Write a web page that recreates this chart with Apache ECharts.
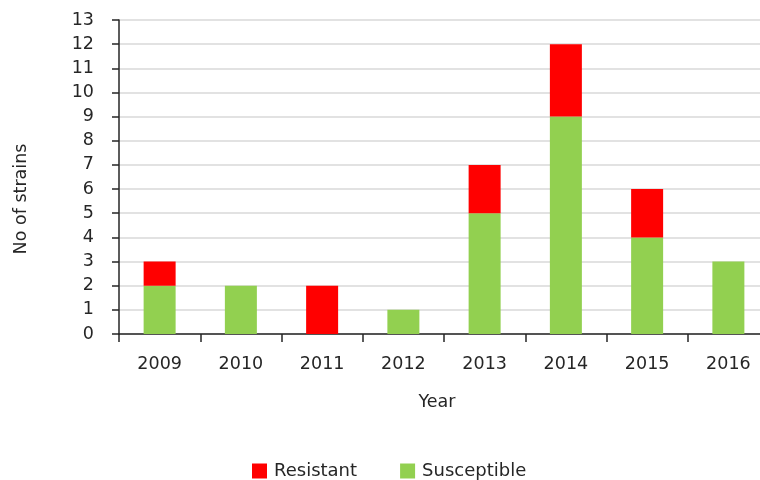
<!DOCTYPE html>
<html>
<head>
<meta charset="utf-8">
<script src="https://cdn.jsdelivr.net/npm/echarts@6/dist/echarts.min.js"></script>
<style>
  html, body { margin: 0; padding: 0; background: #fff; }
  #chart { width: 760px; height: 480px; }
</style>
</head>
<body>
<div id="chart"></div>
<script>
// Strain counts per year, split by resistance status
const years = ['2009', '2010', '2011', '2012', '2013', '2014', '2015', '2016'];
const susceptible = [2, 2, 0, 1, 5, 9, 4, 3];
const resistant = [1, 0, 2, 0, 2, 3, 2, 0];

const font = 'DejaVu Sans, Verdana, sans-serif';
const textColor = '#262626';
const fs = 17.5;

const chart = echarts.init(document.getElementById('chart'), null, { renderer: 'canvas' });
chart.setOption({
  animation: false,
  textStyle: { fontFamily: font },
  grid: {
    left: 119, top: 20, right: -9, bottom: 146,
    outerBoundsMode: 'none', containLabel: false
  },
  legend: {
    data: ['Resistant', 'Susceptible'],
    left: 247, top: 457,
    itemWidth: 15, itemHeight: 15, itemGap: 43,
    icon: 'rect',
    textStyle: { fontFamily: font, fontSize: 18, color: textColor, padding: [0, 0, 0, 2] }
  },
  xAxis: {
    type: 'category',
    data: years,
    name: 'Year',
    nameLocation: 'middle',
    nameGap: 59,
    nameTextStyle: { fontFamily: font, fontSize: fs, color: textColor, padding: [0, 14, 0, 0] },
    axisLine: { lineStyle: { color: '#262626', width: 1.5 } },
    axisTick: { show: true, length: 8, lineStyle: { color: '#262626', width: 1.5 } },
    axisLabel: { fontFamily: font, fontSize: fs, color: textColor, margin: 21 }
  },
  yAxis: {
    type: 'value',
    min: 0, max: 13, interval: 1,
    name: 'No of strains',
    nameLocation: 'middle',
    nameGap: 89,
    nameTextStyle: { fontFamily: font, fontSize: fs, color: textColor, padding: [0, 44, 0, 0] },
    axisLine: { show: true, lineStyle: { color: '#262626', width: 1.5 } },
    axisTick: { show: true, length: 7, lineStyle: { color: '#262626', width: 1.5 } },
    axisLabel: { fontFamily: font, fontSize: fs, color: textColor, margin: 25 },
    splitLine: { lineStyle: { color: '#d9d9d9', width: 1.5 } }
  },
  series: [
    {
      name: 'Susceptible', type: 'bar', stack: 'n',
      data: susceptible, barWidth: 32,
      itemStyle: { color: '#92d050' }
    },
    {
      name: 'Resistant', type: 'bar', stack: 'n',
      data: resistant, barWidth: 32,
      itemStyle: { color: '#ff0000' }
    }
  ]
});
</script>
</body>
</html>
